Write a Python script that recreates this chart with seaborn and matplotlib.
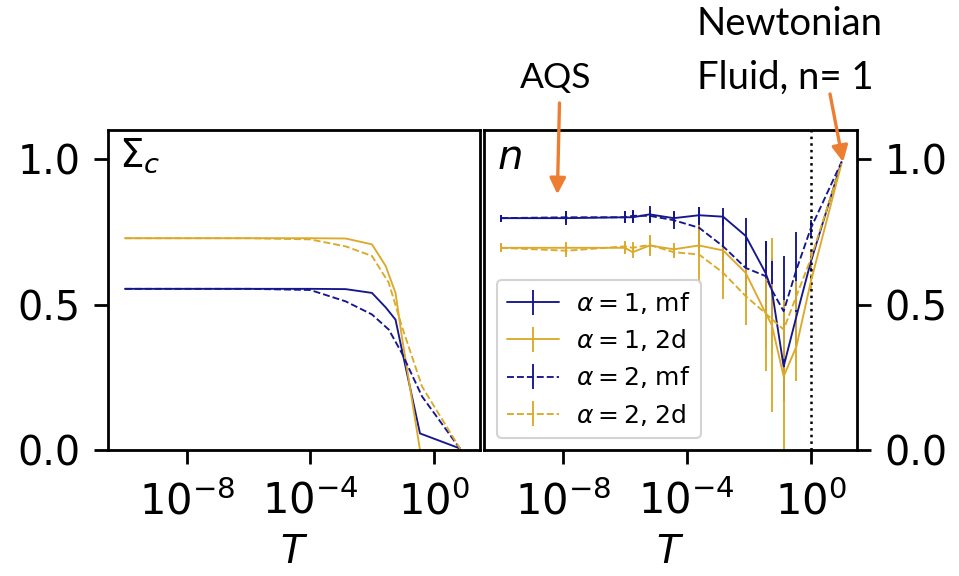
import matplotlib
matplotlib.use("Agg")
import matplotlib.pyplot as plt
from matplotlib.ticker import NullLocator
import seaborn as sns

# ---------------- critical stress Sigma_c vs temperature ----------------
T_sig_solid = [1e-10, 1e-8, 1e-6, 1e-4, 1.4e-3, 1e-2, 2.8e-2, 5.8e-2, 9.3e-2, 3.6e-1, 7.2]
sig_a1_mf = [0.554, 0.554, 0.554, 0.554, 0.553, 0.540, 0.490, 0.448, 0.345, 0.057, 0.005]
sig_a1_2d = [0.728, 0.728, 0.728, 0.728, 0.727, 0.707, 0.632, 0.540, 0.390, 0.0, 0.0]

T_sig_dash = [1e-10, 1e-8, 1e-6, 1e-4, 1.4e-3, 1e-2, 3.5e-2, 9.3e-2, 4.2e-1, 7.6]
sig_a2_mf = [0.554, 0.554, 0.554, 0.550, 0.511, 0.466, 0.414, 0.333, 0.184, 0.0]
sig_a2_2d = [0.728, 0.728, 0.728, 0.724, 0.700, 0.667, 0.575, 0.425, 0.218, 0.0]

# ---------------- flow exponent n vs temperature ----------------
T_n = [1e-10, 1.3e-8, 1e-6, 1.8e-6, 6.3e-6, 3.8e-5, 2.5e-4, 1.5e-3,
       8e-3, 3.5e-2, 5.6e-2, 0.135, 0.35, 1.0, 10.0]
n_a1_mf = [0.797, 0.797, 0.800, 0.800, 0.810, 0.797, 0.807, 0.802,
           0.736, 0.609, 0.550, 0.287, 0.460, 0.644, 0.990]
n_a1_2d = [0.695, 0.695, 0.695, 0.680, 0.703, 0.690, 0.703, 0.686,
           0.609, 0.471, 0.430, 0.253, 0.356, 0.575, 0.985]
n_a2_mf = [0.797, 0.800, 0.800, 0.805, 0.805, 0.790, 0.764, 0.700,
           0.626, 0.598, 0.550, 0.477, 0.620, 0.760, 0.990]
n_a2_2d = [0.695, 0.685, 0.700, 0.695, 0.705, 0.680, 0.672, 0.609,
           0.529, 0.470, 0.450, 0.414, 0.530, 0.655, 0.985]

err_a1_mf = [0.012, 0.025, 0.02, 0.02, 0.03, 0.02, 0.03, 0.03,
             0.06, 0.11, 0.11, 0.12, 0.10, 0.03, 0.0]
err_a1_2d = [0.015, 0.02, 0.02, 0.02, 0.035, 0.02, 0.03, 0.03,
             0.08, 0.20, 0.30, 0.25, 0.12, 0.03, 0.0]
err_a2_mf = [0.012, 0.02, 0.02, 0.02, 0.02, 0.03, 0.07, 0.10,
             0.10, 0.12, 0.10, 0.19, 0.13, 0.03, 0.0]
err_a2_2d = [0.015, 0.02, 0.02, 0.02, 0.03, 0.02, 0.10, 0.09,
             0.10, 0.12, 0.12, 0.10, 0.05, 0.03, 0.0]

labels = [r"$\alpha = 1$, mf", r"$\alpha = 1$, 2d", r"$\alpha = 2$, mf", r"$\alpha = 2$, 2d"]

BLUE = "#16168e"
GOLD = "#dcaa2a"
ORANGE = "#ed7d31"

sns.set_style("ticks")
plt.rcParams["font.family"] = ["DejaVu Sans"]
plt.rcParams["mathtext.fontset"] = "dejavusans"
for key in ("text.color", "axes.labelcolor", "xtick.color", "ytick.color", "axes.edgecolor"):
    plt.rcParams[key] = "black"

fig = plt.figure(figsize=(9.59, 5.76), dpi=100)
W, H = 959.0, 576.0
axL = fig.add_axes([108 / W, 1 - 450 / H, 372 / W, 320 / H])
axR = fig.add_axes([484 / W, 1 - 450 / H, 373 / W, 320 / H])

LW = 1.35
sns.lineplot(x=T_sig_solid, y=sig_a1_mf, ax=axL, color=BLUE, lw=LW, estimator=None, sort=False)
sns.lineplot(x=T_sig_solid, y=sig_a1_2d, ax=axL, color=GOLD, lw=LW, estimator=None, sort=False)
sns.lineplot(x=T_sig_dash, y=sig_a2_mf, ax=axL, color=BLUE, lw=LW, linestyle="--", estimator=None, sort=False)
sns.lineplot(x=T_sig_dash, y=sig_a2_2d, ax=axL, color=GOLD, lw=LW, linestyle="--", estimator=None, sort=False)

series = [
    (n_a1_mf, err_a1_mf, BLUE, "-"),
    (n_a1_2d, err_a1_2d, GOLD, "-"),
    (n_a2_mf, err_a2_mf, BLUE, "--"),
    (n_a2_2d, err_a2_2d, GOLD, "--"),
]
for (vals, err, col, ls), lab in zip(series, labels):
    axR.errorbar(T_n, vals, yerr=err, color=col, ls=ls, lw=LW, elinewidth=LW,
                 capsize=0, label=lab)

axR.axvline(1.0, color="black", ls=":", lw=1.8)

for ax in (axL, axR):
    ax.set_xscale("log")
    ax.set_xlim(10 ** -10.55, 10 ** 1.5)
    ax.set_ylim(0, 1.1)
    ax.set_xticks([1e-8, 1e-4, 1e0])
    ax.xaxis.set_minor_locator(NullLocator())
    ax.set_yticks([0.0, 0.5, 1.0])
    ax.tick_params(axis="both", length=10, width=2, color="black", labelcolor="black")
    ax.tick_params(axis="x", labelsize=30, pad=12)
    ax.tick_params(axis="y", labelsize=28.5, pad=10)
    for sp in ax.spines.values():
        sp.set_linewidth(2)
        sp.set_color("black")
    ax.set_xlabel("$T$", fontsize=28, labelpad=7)
    ax.set_ylabel("")

axR.yaxis.tick_right()
axR.yaxis.set_label_position("right")

axL.text(0.03, 0.98, r"$\Sigma_c$", transform=axL.transAxes, fontsize=28, va="top", ha="left")
axR.text(0.035, 0.975, r"$n$", transform=axR.transAxes, fontsize=29, va="top", ha="left")

leg = axR.legend(loc="lower left", fontsize=18, handlelength=2.1, handletextpad=0.7,
                 labelspacing=0.45, framealpha=0.85, edgecolor="0.8", borderaxespad=0.5)
leg.get_frame().set_linewidth(1.5)

# annotations
fig.text(520 / W, 1 - 88 / H, "AQS", fontsize=25.5, family=["Lato", "DejaVu Sans"],
         va="baseline", ha="left")
fig.text(697 / W, 1 - 6 / H, "Newtonian\nFluid, n= 1", fontsize=27.5,
         family=["Lato", "DejaVu Sans"], va="top", ha="left", linespacing=1.6)

arrow = dict(arrowstyle="-|>", color=ORANGE, lw=2.4, mutation_scale=24, shrinkA=0, shrinkB=0)
axR.annotate("", xy=(10 ** -8.18, 0.879), xycoords="data",
             xytext=(559.5 / W, 1 - 103 / H), textcoords="figure fraction",
             arrowprops=arrow, annotation_clip=False)
axR.annotate("", xy=(10 ** 1.05, 0.99), xycoords="data",
             xytext=(830 / W, 1 - 94 / H), textcoords="figure fraction",
             arrowprops=arrow, annotation_clip=False)

fig.savefig("out.png", dpi=100)
